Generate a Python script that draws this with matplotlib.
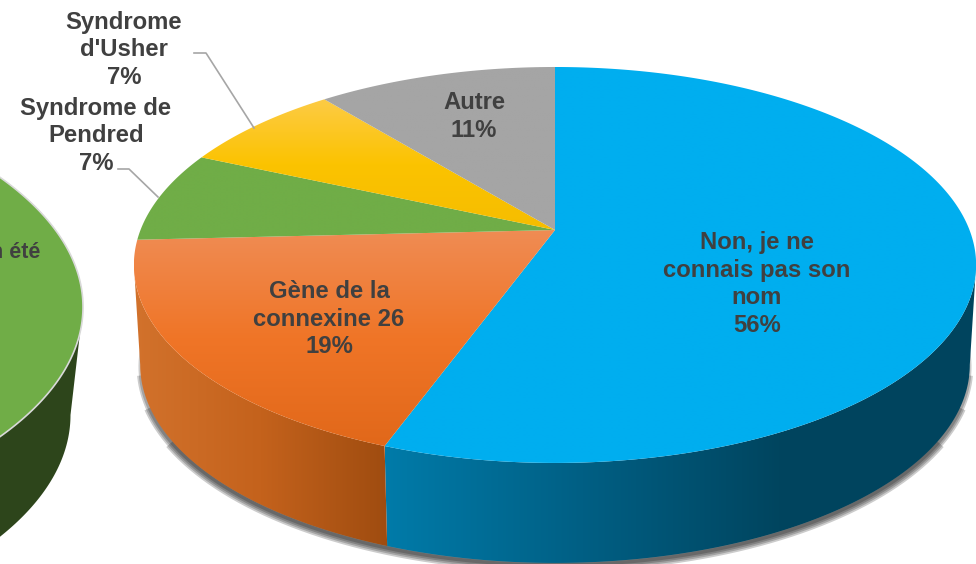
import numpy as np
import matplotlib
matplotlib.use('Agg')
import matplotlib.pyplot as plt
from matplotlib.colors import LinearSegmentedColormap
from matplotlib.patches import Polygon

plt.rcParams['font.family'] = ['Liberation Sans', 'DejaVu Sans']

# shares as they look in the picture (the printed labels are rounded)
categories = ['Non, je ne\nconnais pas son\nnom', 'Gène de la\nconnexine 26',
              'Syndrome de\nPendred', "Syndrome\nd'Usher", 'Autre']
values = [55.57, 18.63, 7.45, 7.45, 10.9]
printed = ['56%', '19%', '7%', '7%', '11%']
top_colors = [['#00aeef', '#00aeef'], ['#ef8c54', '#f07527', '#e1681a'], ['#70ad47', '#70ad47'],
              ['#fdcb45', '#fbc300', '#f6bd00'], ['#a5a5a5', '#a5a5a5']]
side_colors = [['#007ba9', '#005f84', '#00455f', '#00445e'], ['#d2722c', '#c4621c', '#9f4c10'], None, None, None]
label_xy = [(757, 284), (329, 319), (96, 135.5), (124, 50), (474, 116.5)]
leaders = [None, None, [(118, 169), (129, 169), (158, 197)], [(194, 53), (206, 53), (254, 128)], None]

W, H = 976, 564
cx, cy = 555, 230
a, b, k = 414.5, 191.8, 0.1766
depth = 100
shrink = 0.985


def rim(theta, dy=0, sx=1.0):
    u, v = np.sin(theta), np.cos(theta)
    w = 1 + k * v
    return cx + sx * a * u / w, cy - b * v / w + dy


def fill_grad(ax, pts, colors, vertical=True, zorder=2):
    cmap = LinearSegmentedColormap.from_list('g', colors)
    xs, ys = pts[:, 0], pts[:, 1]
    g = np.linspace(0, 1, 256)
    g = g[:, None] if vertical else g[None, :]
    im = ax.imshow(g, cmap=cmap, extent=(xs.min(), xs.max(), ys.max(), ys.min()),
                   aspect='auto', zorder=zorder, interpolation='bilinear')
    patch = Polygon(pts, closed=True, transform=ax.transData, fc='none', ec='none')
    ax.add_patch(patch)
    im.set_clip_path(patch)


fig = plt.figure(figsize=(W / 100, H / 100), dpi=100)
ax = fig.add_axes([0, 0, 1, 1])
ax.axis('off')

# left pie, only its edge is in the frame
lx, ly, lrx, lry = -417, 307, 500, 235
t = np.linspace(0, 2 * np.pi, 721)
ex, ey = lx + lrx * np.cos(t), ly + lry * np.sin(t)
low = np.column_stack([lx + lrx * 0.975 * np.cos(t), ly + 108 + lry * np.sin(t)])
body = np.vstack([np.column_stack([ex, ey])[:361], low[:361][::-1]])
ax.add_patch(Polygon(body, closed=True, fc='#2d451b', ec='none', zorder=1))
ax.add_patch(Polygon(np.column_stack([ex, ey]), closed=True, fc='#70ad47', ec='#d9d9d9', lw=1.2, zorder=2))
ax.text(40, 253, 'n été', ha='right', va='center', fontsize=15.5, fontweight='bold', color='#404040', zorder=6)

# shadow under the main pie, wider passes stop earlier so the ends fade
for lw, trim in [(10, 0.55), (7.5, 0.38), (5, 0.22), (2.5, 0.08)]:
    tt = np.linspace(np.pi / 2 + trim, 3 * np.pi / 2 - trim, 400)
    sx_, sy_ = rim(tt, dy=depth + 2, sx=shrink)
    ax.plot(sx_, sy_, color='black', alpha=0.2, lw=lw, zorder=1, solid_capstyle='butt')

edges = np.cumsum([0] + values) / sum(values) * 2 * np.pi

# side walls, only between the two points where the rim turns back
front_a, front_b = np.pi / 2 + k, 3 * np.pi / 2 - k
for i, stops in enumerate(side_colors):
    if stops is None:
        continue
    th = np.linspace(max(edges[i], front_a), min(edges[i + 1], front_b), 300)
    x1, y1 = rim(th)
    x2, y2 = rim(th, dy=depth, sx=shrink)
    pts = np.column_stack([np.r_[x1, x2[::-1]], np.r_[y1, y2[::-1]]])
    fill_grad(ax, pts, stops, vertical=False, zorder=3)

# top faces
for i, colors in enumerate(top_colors):
    th = np.linspace(edges[i], edges[i + 1], 300)
    x1, y1 = rim(th)
    pts = np.column_stack([np.r_[cx, x1], np.r_[cy, y1]])
    fill_grad(ax, pts, colors, zorder=4)

for line in leaders:
    if line:
        ax.plot(*zip(*line), color='#a6a6a6', lw=1.2, zorder=5)

for name, pct, (x, y) in zip(categories, printed, label_xy):
    ax.text(x, y, name + '\n' + pct, ha='center', va='center', ma='center', fontsize=17.2,
            fontweight='bold', color='#404040', linespacing=1.25, zorder=6)

ax.set_xlim(0, W)
ax.set_ylim(H, 0)
fig.savefig('out.png', dpi=100)
